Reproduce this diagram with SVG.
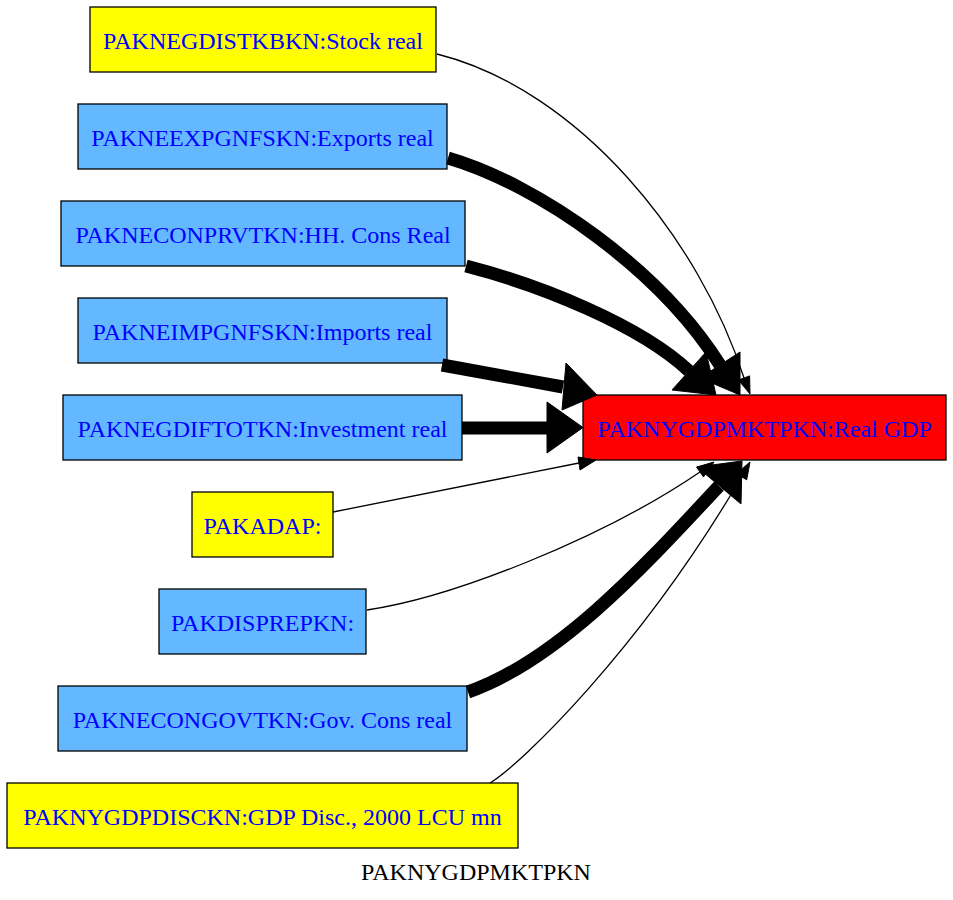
<svg xmlns="http://www.w3.org/2000/svg" width="953" height="900" viewBox="0 0 953 900">
<style>
.n rect{stroke:#000;stroke-width:1.3}
.y rect{fill:#ffff00}
.b rect{fill:#63b8ff}
.r rect{fill:#ff0000}
text{font-family:"Liberation Serif","Times New Roman",serif;font-size:24px;text-anchor:middle}
.n text{fill:#0000ff}
.e path{fill:none;stroke:#000}
.thin{stroke-width:1.3}
.thick{stroke-width:13}
.e polygon{fill:#000;stroke:#000;stroke-width:1}
</style>
<rect width="953" height="900" fill="#fff"/>
<g id="nodes">
<g id="n_stock" class="n y"><rect x="90" y="7" width="346" height="65"/><text x="263" y="49">PAKNEGDISTKBKN:Stock real</text></g>
<g id="n_exports" class="n b"><rect x="78" y="104" width="369" height="65"/><text x="262.5" y="146">PAKNEEXPGNFSKN:Exports real</text></g>
<g id="n_hhcons" class="n b"><rect x="61" y="201" width="404" height="65"/><text x="263" y="243">PAKNECONPRVTKN:HH. Cons Real</text></g>
<g id="n_imports" class="n b"><rect x="78" y="298" width="369" height="65"/><text x="262.5" y="340">PAKNEIMPGNFSKN:Imports real</text></g>
<g id="n_invest" class="n b"><rect x="63" y="395" width="399" height="65"/><text x="262.5" y="437">PAKNEGDIFTOTKN:Investment real</text></g>
<g id="n_adap" class="n y"><rect x="192" y="492" width="141" height="65"/><text x="262.5" y="534">PAKADAP:</text></g>
<g id="n_disprep" class="n b"><rect x="159" y="589" width="207" height="65"/><text x="262.5" y="631">PAKDISPREPKN:</text></g>
<g id="n_govcons" class="n b"><rect x="58" y="686" width="409" height="65"/><text x="262.5" y="728">PAKNECONGOVTKN:Gov. Cons real</text></g>
<g id="n_gdpdisc" class="n y"><rect x="7" y="783" width="511" height="65"/><text x="262.5" y="825">PAKNYGDPDISCKN:GDP Disc., 2000 LCU mn</text></g>
<g id="n_gdp" class="n r"><rect x="583" y="395" width="363" height="65"/><text x="764.5" y="437">PAKNYGDPMKTPKN:Real GDP</text></g>
</g>
<g id="edges" class="e">
<g id="e_stock"><path class="thin" d="M437,54 C580,90 700,240 744,378"/><polygon points="750,394 738.4,380.1 749.6,375.9"/></g>
<g id="e_exports"><path class="thick" d="M448,158 C540,185 660,270 720,365"/><polygon points="740,395 700,378 740,352"/></g>
<g id="e_hhcons"><path class="thick" d="M466,266 C540,285 640,325 689,371"/><polygon points="716,395 672,390 706,352"/></g>
<g id="e_imports"><path class="thick" d="M442,365 L563,387"/><polygon points="597,395 562,410 566,363"/></g>
<g id="e_invest"><path class="thick" d="M462,428 L548,428"/><polygon points="583,427.5 547,453 547,402"/></g>
<g id="e_adap"><path class="thin" d="M333,512 L579,463"/><polygon points="596,460 580,470 578,457"/></g>
<g id="e_disprep"><path class="thin" d="M367,610 C450,598 600,540 700,472"/><polygon points="714,462 703.5,476.9 696.5,467.1"/></g>
<g id="e_govcons"><path class="thick" d="M468,692 C560,660 650,560 719,486"/><polygon points="742,461 741,504 697,467"/></g>
<g id="e_gdpdisc"><path class="thin" d="M490,783 C520,765 640,650 741.5,477"/><polygon points="750,462 746.7,479.8 736.3,473.8"/></g>
</g>
<text x="476" y="880" fill="#000">PAKNYGDPMKTPKN</text>
</svg>
